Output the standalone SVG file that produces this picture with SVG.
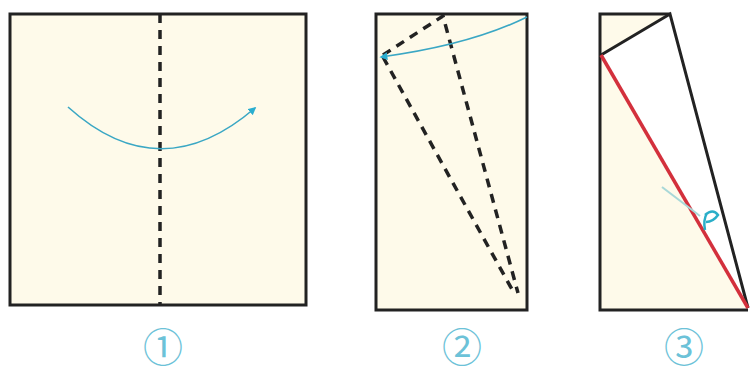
<svg xmlns="http://www.w3.org/2000/svg" width="751" height="373" viewBox="0 0 751 373">
<style>
.paper{fill:#fefaea;stroke:#222;stroke-width:3}
.dash{fill:none;stroke:#222;stroke-width:3.5;stroke-dasharray:9,7}
.arc{fill:none;stroke:#3aa7c4;stroke-width:1.6}
.lbl{font-family:"Noto Sans CJK SC","DejaVu Sans",sans-serif;font-size:40px;fill:#6cc2d8;text-anchor:middle}
</style>
<defs>
<marker id="ah" viewBox="0 0 10 10" refX="8" refY="5" markerWidth="5" markerHeight="5" orient="auto">
<path d="M0,0 L10,5 L0,10 z" fill="#2aaed0"/>
</marker>
</defs>
<g id="panel1">
<rect class="paper" x="10" y="14" width="296" height="291"/>
<line class="dash" x1="160" y1="14" x2="160" y2="305"/>
</g>
<g id="panel2">
<rect class="paper" x="376" y="14" width="151" height="296"/>
<path class="dash" d="M383,55 L443,16 L518,293 M383,57 L514,293"/>
</g>
<g id="panel3">
<path d="M600,14 L670,14 L601,55 Z" fill="#fefaea"/>
<path d="M601,55 L670,14 L748,308 Z" fill="#ffffff"/>
<path d="M601,55 L748,308 L600,310 Z" fill="#fefaea"/>
<path d="M670,14 L600,14 L600,310 L748,310" fill="none" stroke="#222" stroke-width="3"/>
<path d="M601,55 L670,14 L748,308" fill="none" stroke="#222" stroke-width="3"/>
<line x1="601" y1="55" x2="748" y2="308" stroke="#d3303c" stroke-width="3.5"/>
<line x1="662" y1="187" x2="700" y2="216" stroke="#a8d8d8" stroke-width="2"/>
<path d="M707,213 Q703,220 705,230 M705,215 Q713,208 718,215 Q713,222 706,222" fill="none" stroke="#2aaec8" stroke-width="2.5"/>
</g>
<g id="connectors">
<path class="arc" d="M68,107 Q160,190 255,108" marker-end="url(#ah)"/>
<path class="arc" d="M527,17 Q470,45 381,57" marker-end="url(#ah)"/>
</g>
<g id="labels">
<text class="lbl" x="163" y="362">①</text>
<text class="lbl" x="462" y="362">②</text>
<text class="lbl" x="684" y="362">③</text>
</g>
</svg>
